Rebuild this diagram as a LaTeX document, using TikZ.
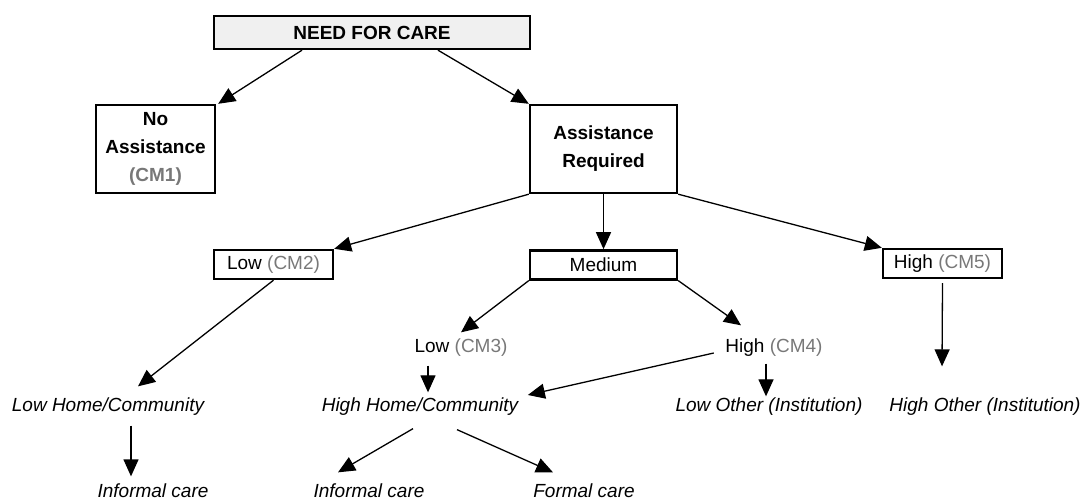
\documentclass[tikz,border=0pt]{standalone}
\usepackage{fontspec}
\setmainfont{Liberation Sans}
\usetikzlibrary{positioning,arrows.meta,calc}
\definecolor{cmgrey}{RGB}{120,120,120}
\definecolor{needfill}{RGB}{240,240,240}
\newcommand{\sz}{\fontsize{9.5}{14}\selectfont}
\newcommand{\cmtag}[1]{{\color{cmgrey}(#1)}}

\begin{document}
\begin{tikzpicture}[x=0.5pt,y=-0.5pt,->,>={Triangle[length=8.5pt,width=7.5pt]},line width=0.65pt,font=\sz,
	box/.style={draw,line width=1.2pt,inner sep=0pt,align=center},
	leaf/.style={inner sep=0pt,text height=7pt,text depth=2pt},
	outcome/.style={leaf,font=\sz\itshape}]
	\useasboundingbox (0,0) rectangle (1085,501);
	\node[box,fill=needfill,minimum width=158pt,minimum height=16.5pt,font=\sz\bfseries] (need) at (372,32.5) {NEED FOR CARE};
	\node[box,minimum width=59.5pt,minimum height=44pt,font=\sz\bfseries] (noassist) at (155.5,149) {No\\Assistance\\\cmtag{CM1}};
	\node[box,minimum width=73.5pt,minimum height=44pt,font=\sz\bfseries] (assist) at (603.5,149) {Assistance\\Required};
	\draw ($(need.south)+(-70,0)$) -- ($(noassist.north east)+(2,0)$);
	\draw ($(need.south)+(66,0)$) -- (assist.north west);
	
	\node[box,minimum width=59.5pt,minimum height=14.5pt] (low2) at (273.5,264.5) {Low \cmtag{CM2}};
	\node[box,minimum width=73.5pt,minimum height=14.5pt,below=27.5pt of assist] (medium) {Medium};
	\node[box,minimum width=59.5pt,minimum height=14.5pt] (high5) at (942.5,263.5) {High \cmtag{CM5}};
	\draw (assist.south west) -- (low2.north east);
	\draw (assist.south) -- (medium.north);
	\draw (assist.south east) -- (high5.north west);
	
	\node[leaf] (low3) at (461,348) {Low \cmtag{CM3}};
	\node[leaf] (high4) at (774,348) {High \cmtag{CM4}};
	\draw (medium.south west) -- ($(low3.north)+(0,-6)$);
	\draw (medium.south east) -- ($(high4.north)+(-33,-13)$);
	
	\node[outcome] (lowhome) at (108,407) {Low Home/Community};
	\node[outcome] (highhome) at (420,407) {High Home/Community};
	\node[outcome] (lowother) at (769,407) {Low Other (Institution)};
	\node[outcome] (highother) at (985,407) {High Other (Institution)};
	\draw (low2.south) -- ($(lowhome.north)+(30,-11)$);
	\draw ($(low3.south)+(-33,8)$) -- ($(highhome.north)+(8,-5)$);
	\draw ($(high4.west)+(-11,5)$) -- ($(highhome.east)+(9,-12)$);
	\draw ($(high4.south)+(-8,6)$) -- ($(lowother.north)+(-3,-1)$);
	\draw ($(high5.south)+(0,4)$) -- ($(highother.north)+(-43,-31)$);
	
	\node[outcome] (informal1) at (153,492) {Informal care};
	\node[outcome] (informal2) at (369,492) {Informal care};
	\node[outcome] (formal) at (584,492) {Formal care};
	\draw ($(lowhome.south)+(23,9)$) -- ($(informal1.north)+(-22,-6)$);
	\draw ($(highhome.south)+(-7,12)$) -- ($(informal2.north)+(-31,-10)$);
	\draw ($(highhome.south)+(37,13)$) -- ($(formal.north)+(-31,-10)$);
\end{tikzpicture}
\end{document}
